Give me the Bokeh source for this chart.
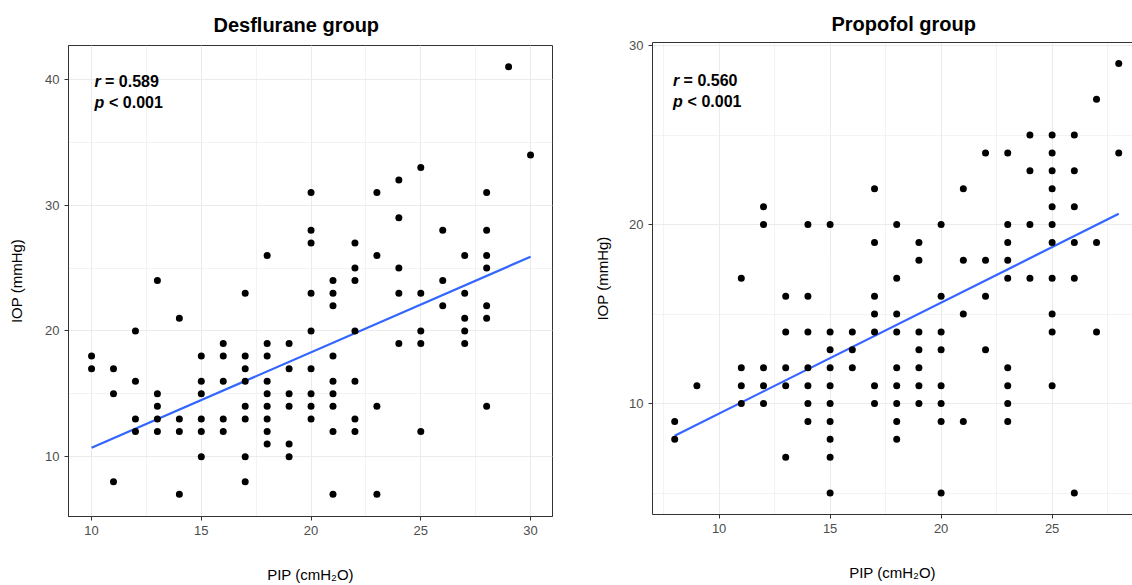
from bokeh.plotting import figure
from bokeh.layouts import row, column
from bokeh.models import SingleIntervalTicker, FixedTicker, LinearAxis, Range1d, Label, Spacer
from bokeh.embed import file_html
from bokeh.resources import INLINE

FONT = "Liberation Sans"

# ---------------- Desflurane group (PIP, IOP) ----------------
des_pip = ([10] * 2 + [11] * 3 + [12] * 4 + [13] * 5 + [14] * 4 + [15] * 6 + [16] * 5 +
           [17] * 8 + [18] * 9 + [19] * 6 + [20] * 9 + [21] * 9 + [22] * 7 + [23] * 4 +
           [24] * 5 + [25] * 5 + [26] * 3 + [27] * 5 + [28] * 7 + [29] * 1 + [30] * 1)
des_iop = [18, 17,
           17, 15, 8,
           20, 16, 13, 12,
           24, 15, 14, 13, 12,
           21, 13, 12, 7,
           18, 16, 15, 13, 12, 10,
           19, 18, 16, 13, 12,
           23, 18, 17, 16, 14, 13, 10, 8,
           26, 19, 18, 16, 15, 14, 13, 12, 11,
           19, 17, 15, 14, 11, 10,
           31, 28, 27, 23, 20, 17, 15, 14, 13,
           24, 23, 22, 18, 16, 15, 14, 12, 7,
           27, 25, 24, 20, 16, 13, 12,
           31, 26, 14, 7,
           32, 29, 25, 23, 19,
           33, 23, 20, 19, 12,
           28, 24, 22,
           26, 23, 21, 20, 19,
           31, 28, 26, 25, 22, 21, 14,
           41,
           34]
des_fit_x = [10, 30]
des_fit_y = [10.7, 25.9]
des_r = "= 0.589"
des_p = "< 0.001"

# ---------------- Propofol group (PIP, IOP) ----------------
pro_pip = ([8] * 2 + [9] * 1 + [11] * 4 + [12] * 5 + [13] * 5 + [14] * 7 + [15] * 10 +
           [16] * 3 + [17] * 7 + [18] * 9 + [19] * 7 + [20] * 8 + [21] * 4 + [22] * 4 +
           [23] * 9 + [24] * 4 + [25] * 11 + [26] * 6 + [27] * 3 + [28] * 2)
pro_iop = [9, 8,
           11,
           17, 12, 11, 10,
           21, 20, 12, 11, 10,
           16, 14, 12, 11, 7,
           20, 16, 14, 12, 11, 10, 9,
           20, 14, 13, 12, 11, 10, 9, 8, 7, 5,
           14, 13, 12,
           22, 19, 16, 15, 14, 11, 10,
           20, 17, 15, 14, 12, 11, 10, 9, 8,
           19, 18, 14, 13, 12, 11, 10,
           20, 16, 14, 13, 11, 10, 9, 5,
           22, 18, 15, 9,
           24, 18, 16, 13,
           24, 20, 19, 18, 17, 12, 11, 10, 9,
           25, 23, 20, 17,
           25, 24, 23, 22, 21, 20, 19, 17, 15, 14, 11,
           25, 23, 21, 19, 17, 5,
           27, 19, 14,
           29, 24]
pro_fit_x = [8, 28]
pro_fit_y = [8.2, 20.6]
pro_r = "= 0.560"
pro_p = "< 0.001"

GRID = "#EBEBEB"
BORDER = "#333333"
TICKLAB = "#4D4D4D"
LINE = "#3366FF"


def style_axis(ax, label, standoff):
    ax.axis_label = label
    ax.axis_label_text_font = FONT
    ax.axis_label_text_font_size = "15px"
    ax.axis_label_text_font_style = "normal"
    ax.axis_label_text_color = "black"
    ax.axis_label_standoff = standoff
    ax.major_label_text_font = FONT
    ax.major_label_text_font_size = "13px"
    ax.major_label_text_color = TICKLAB
    ax.major_label_standoff = 5
    ax.major_tick_in = 0
    ax.major_tick_out = 4
    ax.major_tick_line_color = BORDER
    ax.minor_tick_line_color = None
    ax.axis_line_color = BORDER
    ax.axis_line_width = 1


def make_panel(title, title_offset, title_standoff, xs, ys, fx, fy, r_txt, p_txt, xr, yr,
               width, mb_right, ylab_standoff, ann_x, ann_y1, ann_y2, full_border):
    p = figure(width=width, height=583, output_backend="svg", toolbar_location=None,
               x_range=Range1d(*xr), y_range=Range1d(*yr),
               min_border_left=62, min_border_right=mb_right,
               min_border_top=42, min_border_bottom=69)
    p.background_fill_color = "white"
    p.border_fill_color = "white"

    xax = p.below[0]
    yax = p.left[0]
    xax.ticker = SingleIntervalTicker(interval=5, num_minor_ticks=2)
    yax.ticker = SingleIntervalTicker(interval=10, num_minor_ticks=2)
    style_axis(xax, "PIP (cmH\u2082O)", 28)
    style_axis(yax, "IOP (mmHg)", ylab_standoff)

    if full_border:
        p.outline_line_color = BORDER
        p.outline_line_width = 1
    else:
        p.outline_line_color = None
        top = LinearAxis(ticker=FixedTicker(ticks=[]),
                         major_tick_line_color=None, minor_tick_line_color=None,
                         major_label_standoff=0, major_tick_out=0, major_tick_in=0,
                         axis_line_color=BORDER, axis_line_width=1)
        p.add_layout(top, "above")

    for g in (p.xgrid[0], p.ygrid[0]):
        g.grid_line_color = GRID
        g.grid_line_width = 1.1
        g.minor_grid_line_color = GRID
        g.minor_grid_line_width = 0.6

    p.title.text = title
    p.title.align = "left"
    p.title.offset = title_offset
    p.title.standoff = title_standoff
    p.title.text_font = FONT
    p.title.text_font_size = "20px"
    p.title.text_font_style = "bold"
    p.title.text_color = "black"

    p.line(fx, fy, line_color=LINE, line_width=2.2)
    p.scatter(xs, ys, size=7, fill_color="black", line_color=None)

    common = dict(text_font=FONT, text_font_size="16px", text_color="black",
                  text_baseline="alphabetic", text_align="left")
    p.add_layout(Label(x=ann_x, y=ann_y1, text="r", text_font_style="bold italic", **common))
    p.add_layout(Label(x=ann_x, y=ann_y1, x_offset=10.5, text=r_txt,
                       text_font_style="bold", **common))
    p.add_layout(Label(x=ann_x, y=ann_y2, text="p", text_font_style="bold italic", **common))
    p.add_layout(Label(x=ann_x, y=ann_y2, x_offset=14.5, text=p_txt,
                       text_font_style="bold", **common))
    return p


p1 = make_panel("Desflurane group", 145, 19, des_pip, des_iop, des_fit_x, des_fit_y,
                des_r, des_p, (8.95, 31.0), (5.24, 42.7),
                548, 1, 17, 10.136, 39.84, 38.2, True)
p2 = make_panel("Propofol group", 179, 15, pro_pip, pro_iop, pro_fit_x, pro_fit_y,
                pro_r, pro_p, (7.0, 28.62), (3.80, 30.17),
                542, 0, 15, 7.928, 28.04, 26.89, False)

layout = row(Spacer(width=5, height=585),
             column(Spacer(width=548, height=2), p1),
             Spacer(width=37, height=585),
             p2)
open("out.html", "w").write(file_html(layout, INLINE))
